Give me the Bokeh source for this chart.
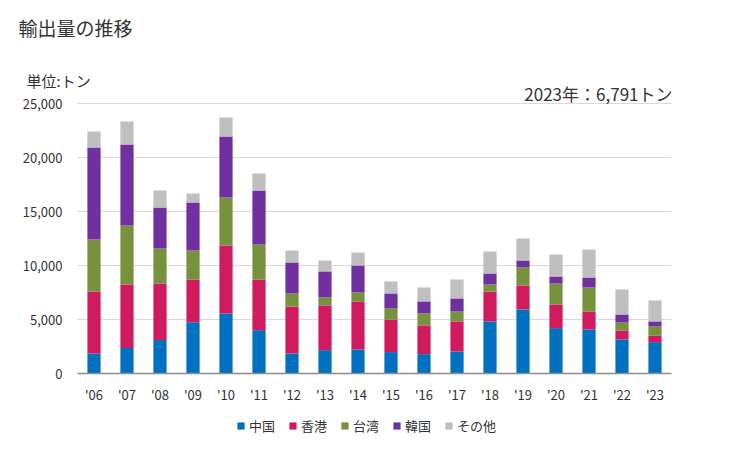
from bokeh.plotting import figure
from bokeh.models import (Range1d, Legend, LegendItem, NumeralTickFormatter, ColumnDataSource,
                          FixedTicker, Label)
from bokeh.embed import file_html
from bokeh.resources import INLINE

years = ["'06", "'07", "'08", "'09", "'10", "'11", "'12", "'13", "'14", "'15",
         "'16", "'17", "'18", "'19", "'20", "'21", "'22", "'23"]
china = [1880, 2380, 3120, 4780, 5590, 4040, 1880, 2190, 2250, 2010, 1820, 2070, 4850, 5960, 4230, 4100, 3180, 2930]
hongkong = [5740, 5890, 5240, 3950, 6290, 4690, 4350, 4140, 4450, 3020, 2660, 2780, 2770, 2220, 2190, 1670, 830, 620]
taiwan = [4820, 5460, 3240, 2690, 4450, 3250, 1210, 740, 830, 1020, 1110, 920, 650, 1670, 1940, 2220, 740, 830]
korea = [8520, 7500, 3800, 4440, 5650, 5000, 2870, 2410, 2500, 1390, 1110, 1210, 1020, 640, 650, 930, 740, 470]
others = [1480, 2130, 1580, 840, 1750, 1570, 1110, 1010, 1200, 1110, 1290, 1750, 2040, 2040, 2040, 2590, 2320, 1941]
y_ticks = [0, 5000, 10000, 15000, 20000, 25000]

series = ["中国", "香港", "台湾", "韓国", "その他"]
colors = ["#0070C0", "#D01C5F", "#76923C", "#7030A0", "#BFBFBF"]

FONT = "Noto Sans CJK JP"
TXT = "#333333"

W, H = 721, 442
# frame covers the whole canvas; data ranges chosen so the plot area sits at x 77..671, y 103..373
PX_PER_CAT = 33.0
X0_PX = 93.5
PX_PER_UNIT_Y = 270.0 / 25000
BASE_PX = 373.3

idx = list(range(len(years)))
src = ColumnDataSource(data={"x": idx, "中国": china, "香港": hongkong,
                             "台湾": taiwan, "韓国": korea, "その他": others})

p = figure(width=W, height=H,
           x_range=Range1d(-X0_PX / PX_PER_CAT, (W - X0_PX) / PX_PER_CAT),
           y_range=Range1d(-(H - BASE_PX) / PX_PER_UNIT_Y, BASE_PX / PX_PER_UNIT_Y),
           output_backend="svg", toolbar_location=None,
           min_border_left=0, min_border_right=0, min_border_top=0, min_border_bottom=0)
p.outline_line_color = None

rs = p.vbar_stack(series, x="x", width=0.4, color=colors, source=src, line_color=None)

first, last = -0.5, len(years) - 0.5

# grid
p.xgrid.visible = False
p.ygrid.ticker = FixedTicker(ticks=y_ticks)
p.ygrid.grid_line_color = "#D9D9D9"
try:
    p.ygrid.cross_bounds = (first, last)
except AttributeError:
    p.ygrid.visible = False
    p.segment(x0=[first] * (len(y_ticks) - 1), x1=[last] * (len(y_ticks) - 1),
              y0=y_ticks[1:], y1=y_ticks[1:], line_color="#D9D9D9", line_width=1, level="underlay")

# y axis
p.yaxis.fixed_location = first
p.yaxis.bounds = (0, 25000)
p.yaxis.ticker = FixedTicker(ticks=y_ticks)
p.yaxis.axis_line_color = None
p.yaxis.major_tick_line_color = None
p.yaxis.minor_tick_line_color = None
p.yaxis.major_tick_out = 0
p.yaxis.major_label_standoff = 15
p.yaxis.formatter = NumeralTickFormatter(format="0,0")

# x axis
p.xaxis.fixed_location = 0
p.xaxis.bounds = (first, last)
p.xaxis.ticker = FixedTicker(ticks=idx)
p.xaxis.major_label_overrides = {i: y for i, y in zip(idx, years)}
p.xaxis.axis_line_color = "#8C8C8C"
p.xaxis.axis_line_width = 1.5
p.xaxis.major_tick_line_color = None
p.xaxis.minor_tick_line_color = None
p.xaxis.major_tick_out = 0
p.xaxis.major_label_standoff = 11
for ax in (p.xaxis, p.yaxis):
    ax.major_label_text_font = FONT
    ax.major_label_text_font_size = "13px"
    ax.major_label_text_color = TXT

# texts (screen units: from the canvas' bottom-left)
p.add_layout(Label(x=18, y=H - 27, x_units="screen", y_units="screen", text="輸出量の推移",
                   text_font=FONT, text_font_size="19px", text_color=TXT, text_baseline="middle"))
p.add_layout(Label(x=26, y=H - 80, x_units="screen", y_units="screen", text="単位:トン",
                   text_font=FONT, text_font_size="15px", text_color=TXT, text_baseline="middle"))
p.add_layout(Label(x=672, y=H - 93, x_units="screen", y_units="screen", text="2023年：6,791トン",
                   text_font=FONT, text_font_size="17px", text_color=TXT, text_baseline="middle",
                   text_align="right"))

legend = Legend(items=[LegendItem(label=s, renderers=[r]) for s, r in zip(series, rs)],
                location=(236, 7), orientation="horizontal",
                glyph_width=9, glyph_height=9, label_height=9, label_standoff=4, spacing=13,
                padding=0, margin=0, border_line_color=None, background_fill_alpha=0,
                label_text_font=FONT, label_text_font_size="13px", label_text_color=TXT)
p.add_layout(legend)

open("out.html", "w").write(file_html(p, INLINE))
